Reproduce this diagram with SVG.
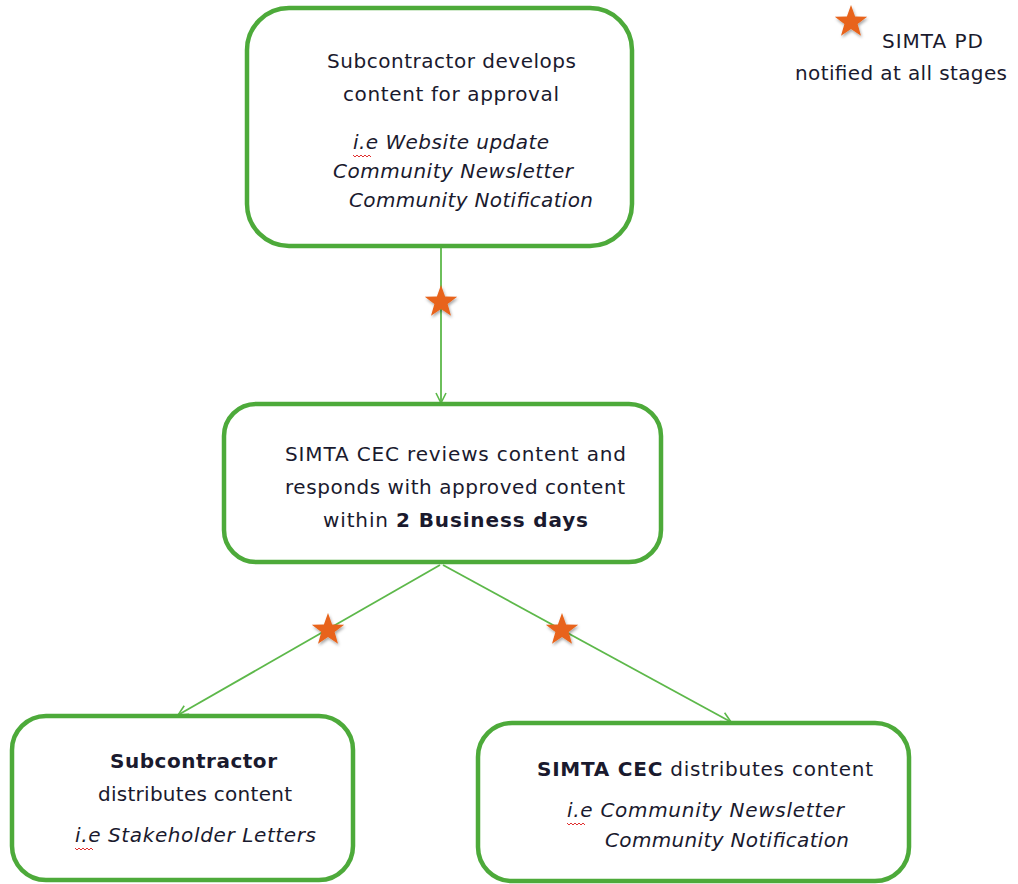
<svg xmlns="http://www.w3.org/2000/svg" width="1018" height="884" viewBox="0 0 1018 884">
<style>
.box{fill:#fff;stroke:#4DAA3A;stroke-width:4.5}
.t{font-family:"DejaVu Sans",Verdana,sans-serif;font-size:20px;fill:#1a1a2e}
.i{font-style:italic}
.b{font-weight:bold}
.con{stroke:#5DB84A;stroke-width:1.8;fill:none}
.star{fill:#E8641A}
.sq{stroke:#E03030;stroke-width:1;fill:none}
</style>
<defs>
<marker id="arr" viewBox="0 0 12 12" refX="11" refY="6" markerWidth="12" markerHeight="12" markerUnits="userSpaceOnUse" orient="auto">
<path d="M1,1 L11,6 L1,11" fill="none" stroke="#5DB84A" stroke-width="1.6"/>
</marker>
<filter id="sh" x="-50%" y="-50%" width="200%" height="200%">
<feDropShadow dx="1" dy="2" stdDeviation="1.8" flood-color="#000" flood-opacity="0.35"/>
</filter>
<path id="st" d="M0,-17 L4.1,-5.6 L16.2,-5.3 L6.6,2.1 L10,13.8 L0,6.9 L-10,13.8 L-6.6,2.1 L-16.2,-5.3 L-4.1,-5.6 Z"/>
</defs>

<g id="connectors">
<line class="con" x1="441" y1="247" x2="441" y2="403" marker-end="url(#arr)"/>
<line class="con" x1="440" y1="565" x2="178" y2="715" marker-end="url(#arr)"/>
<line class="con" x1="443" y1="565" x2="731" y2="722" marker-end="url(#arr)"/>
<use href="#st" class="star" x="441" y="302" filter="url(#sh)"/>
<use href="#st" class="star" x="328" y="630" filter="url(#sh)"/>
<use href="#st" class="star" x="562" y="630" filter="url(#sh)"/>
</g>

<g id="legend">
<use href="#st" class="star" x="851" y="22" filter="url(#sh)"/>
<text class="t" x="882" y="48" textLength="101">SIMTA PD</text>
<text class="t" x="795" y="80" textLength="212">notified at all stages</text>
</g>

<g id="node-develop">
<rect class="box" x="247" y="8" width="385" height="238" rx="42"/>
<text class="t" x="327" y="68" textLength="249">Subcontractor develops</text>
<text class="t" x="343" y="101" textLength="216">content for approval</text>
<text class="t i" x="353" y="149" textLength="196">i.e Website update</text>
<path class="sq" d="M353,155 l2,2 l2,-2 l2,2 l2,-2 l2,2 l2,-2 l2,2 l2,-2 l2,2"/>
<text class="t i" x="333" y="178" textLength="240">Community Newsletter</text>
<text class="t i" x="349" y="207" textLength="244">Community Notification</text>
</g>

<g id="node-review">
<rect class="box" x="224" y="404" width="437" height="158" rx="32"/>
<text class="t" x="285" y="461" textLength="341">SIMTA CEC reviews content and</text>
<text class="t" x="285" y="494" textLength="340">responds with approved content</text>
<text class="t" x="323" y="527" textLength="265">within <tspan class="b">2 Business days</tspan></text>
</g>

<g id="node-sub-dist">
<rect class="box" x="12" y="716" width="341" height="164" rx="34"/>
<text class="t b" x="110" y="768" textLength="167">Subcontractor</text>
<text class="t" x="98" y="801" textLength="194">distributes content</text>
<text class="t i" x="75" y="842" textLength="241">i.e Stakeholder Letters</text>
<path class="sq" d="M75,848 l2,2 l2,-2 l2,2 l2,-2 l2,2 l2,-2 l2,2 l2,-2 l2,2"/>
</g>

<g id="node-cec-dist">
<rect class="box" x="478" y="723" width="431" height="158" rx="34"/>
<text class="t" x="537" y="776" textLength="336"><tspan class="b">SIMTA CEC</tspan> distributes content</text>
<text class="t i" x="567" y="817" textLength="277">i.e Community Newsletter</text>
<path class="sq" d="M567,823 l2,2 l2,-2 l2,2 l2,-2 l2,2 l2,-2 l2,2 l2,-2 l2,2"/>
<text class="t i" x="605" y="847" textLength="244">Community Notification</text>
</g>
</svg>
